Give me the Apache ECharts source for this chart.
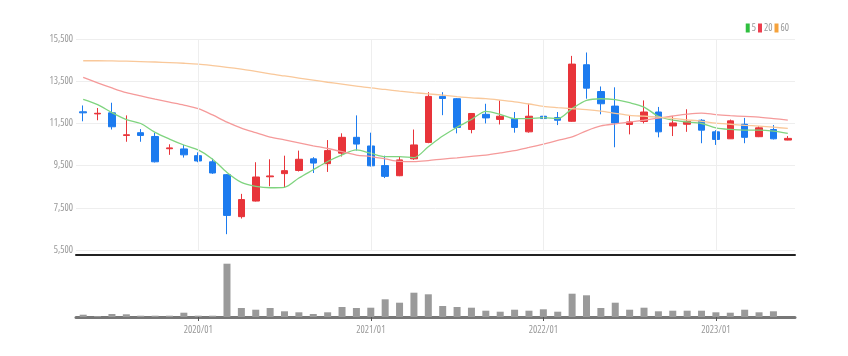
<!DOCTYPE html>
<html><head><meta charset="utf-8">
<script src="https://cdn.jsdelivr.net/npm/echarts@6/dist/echarts.min.js"></script>
<style>html,body{margin:0;padding:0;background:#fff}#c{width:848px;height:356px}</style>
</head><body><div id="c"></div>
<script>
const months = ['2019/05','2019/06','2019/07','2019/08','2019/09','2019/10','2019/11','2019/12',
'2020/01','2020/02','2020/03','2020/04','2020/05','2020/06','2020/07','2020/08','2020/09','2020/10','2020/11','2020/12',
'2021/01','2021/02','2021/03','2021/04','2021/05','2021/06','2021/07','2021/08','2021/09','2021/10','2021/11','2021/12',
'2022/01','2022/02','2022/03','2022/04','2022/05','2022/06','2022/07','2022/08','2022/09','2022/10','2022/11','2022/12',
'2023/01','2023/02','2023/03','2023/04','2023/05','2023/06'];
const openP  = [12050,11950,12000,10930,11060,10880,10300,10290,9970,9680,9070,7080,7820,8970,9120,9270,9820,9590,10090,10840,10430,9500,9020,9820,10600,12780,12670,11210,11930,11690,11730,11100,11840,11780,11600,14280,13010,12320,11450,11590,12040,11380,11460,11650,11100,10770,11460,10870,11210,10710];
const closeP = [12000,11980,11340,10960,10930,9680,10340,10010,9720,9150,7140,7890,8960,9010,9260,9800,9620,10210,10840,10520,9490,8990,9770,10480,12780,12680,11310,11970,11760,11840,11310,11840,11730,11650,14310,13170,12430,11520,11570,12040,11100,11520,11600,11180,10740,11620,10840,11290,10770,10790];
const lowP   = [11600,11650,11210,10630,10630,9650,10010,9880,9660,9110,6250,6990,7800,8520,8470,9220,9150,9200,9930,10210,9460,8910,9000,9770,10560,11890,11030,11030,11500,11450,11060,11060,11310,11420,11580,12670,11930,10370,10980,11500,10840,10900,11100,10560,10480,10760,10560,10850,10740,10700];
const highP  = [12350,12230,12480,11880,11230,11050,10510,10480,10130,9830,9100,8160,9660,9800,9970,10210,9900,10710,11030,11880,11060,9970,9930,11210,12980,12980,12700,11990,12430,12590,12040,12430,12200,12040,14700,14860,13250,13210,11890,12590,12280,11840,12170,11700,11180,11680,11760,11370,11420,10900];
const ma5  = [12636,12387,12012,11683,11495,11072,10758,10476,10242,9804,9178,8707,8519,8450,8472,8913,9303,9693,10007,10242,10086,9927,9927,9880,10397,10899,11320,11683,12073,11932,11730,11730,11775,11730,12199,12589,12669,12622,12480,12275,11838,11650,11570,11495,11289,11213,11181,11181,11134,11025];
const ma20 = [13683,13420,13180,12960,12800,12650,12509,12370,12199,11900,11560,11280,11060,10850,10720,10580,10440,10310,10160,10000,9930,9820,9700,9690,9740,9810,9870,9940,10000,10100,10210,10360,10520,10690,10860,11150,11380,11480,11560,11650,11750,11850,11940,11990,11920,11870,11830,11800,11730,11660];
const ma60 = [14470,14470,14460,14450,14430,14410,14380,14350,14310,14240,14160,14070,13970,13850,13750,13650,13550,13450,13360,13270,13180,13110,13030,12960,12900,12840,12770,12710,12670,12600,12520,12420,12310,12250,12200,12150,12080,11980,11880,11840,11800,11740,11670,11600,11510,11460,11410,11370,11320,11260];
const volume = [230,100,300,270,130,130,130,430,130,130,5330,900,730,900,570,470,300,470,1000,900,930,1770,1430,2430,2270,1100,1000,930,630,530,730,630,770,530,2330,2170,900,1430,730,930,570,630,630,630,470,430,730,470,570,0];
const yTicks = {min:5500, max:15500, interval:2000};

const FONT = "'Open Sans'";
const TXT = {color:'#999', fontSize:10, fontFamily:FONT, fontStyle:'normal', fontWeight:'condensed'};
const isJan = (i, v) => /\/01$/.test(v);
const janLines = months.filter(m => /\/01$/.test(m)).map(m => ({xAxis: m}));
const candleData = months.map((m, i) => [openP[i], closeP[i], lowP[i], highP[i]]);

const chart = echarts.init(document.getElementById('c'), null, {renderer:'canvas'});
chart.setOption({
  animation:false,
  legend:{
    right:54, top:18, itemWidth:4, itemHeight:9, itemGap:2, icon:'rect',
    textStyle:Object.assign({}, TXT, {padding:[0,0,0,-3]}),
    data:[{name:'5', itemStyle:{color:'#2fbf3f'}},{name:'20', itemStyle:{color:'#ee3e4e'}},{name:'60', itemStyle:{color:'#f5a23c'}}]
  },
  grid:[
    {left:76, right:53, top:39, bottom:106},
    {left:76, right:53, top:262, bottom:39}
  ],
  xAxis:[
    {type:'category', gridIndex:0, data:months, boundaryGap:true, offset:5,
     axisLine:{show:true, lineStyle:{color:'#222', width:2}}, axisTick:{show:false}, axisLabel:{show:false}, splitLine:{show:false}},
    {type:'category', gridIndex:1, data:months, boundaryGap:true,
     axisLine:{show:true, lineStyle:{color:'#777', width:3}},
     axisTick:{show:true, alignWithLabel:true, interval:isJan, length:4, lineStyle:{color:'#555'}},
     axisLabel:Object.assign({interval:isJan, margin:8}, TXT),
     splitLine:{show:false}}
  ],
  yAxis:[
    {type:'value', gridIndex:0, min:yTicks.min, max:yTicks.max, interval:yTicks.interval, position:'left',
     axisLine:{show:false}, axisTick:{show:false},
     axisLabel:Object.assign({margin:3, formatter:v => v.toLocaleString('en-US')}, TXT),
     splitLine:{lineStyle:{color:'#eee', width:1}}},
    {type:'value', gridIndex:1, min:0, max:5500, show:false, splitLine:{show:false}}
  ],
  series:[
    {type:'candlestick', name:'price', xAxisIndex:0, yAxisIndex:0, data:candleData, barWidth:7,
     itemStyle:{color:'#e8343a', color0:'#1c7bef', borderColor:'#e8343a', borderColor0:'#1c7bef', borderWidth:1},
     markLine:{silent:true, symbol:['none','none'], label:{show:false},
       lineStyle:{color:'#eee', width:1, type:'solid'}, data:janLines}},
    {type:'line', name:'5', xAxisIndex:0, yAxisIndex:0, data:ma5, smooth:0.3, showSymbol:false,
     lineStyle:{color:'#7fd47f', width:1.3}, itemStyle:{color:'#2fbf3f'}},
    {type:'line', name:'20', xAxisIndex:0, yAxisIndex:0, data:ma20, smooth:0.3, showSymbol:false,
     lineStyle:{color:'#f59a9a', width:1.3}, itemStyle:{color:'#ee3e4e'}},
    {type:'line', name:'60', xAxisIndex:0, yAxisIndex:0, data:ma60, smooth:0.3, showSymbol:false,
     lineStyle:{color:'#f9c89a', width:1.3}, itemStyle:{color:'#f5a23c'}},
    {type:'bar', name:'vol', xAxisIndex:1, yAxisIndex:1, data:volume, barWidth:7,
     itemStyle:{color:'#9a9a9a'}}
  ]
});
</script></body></html>
